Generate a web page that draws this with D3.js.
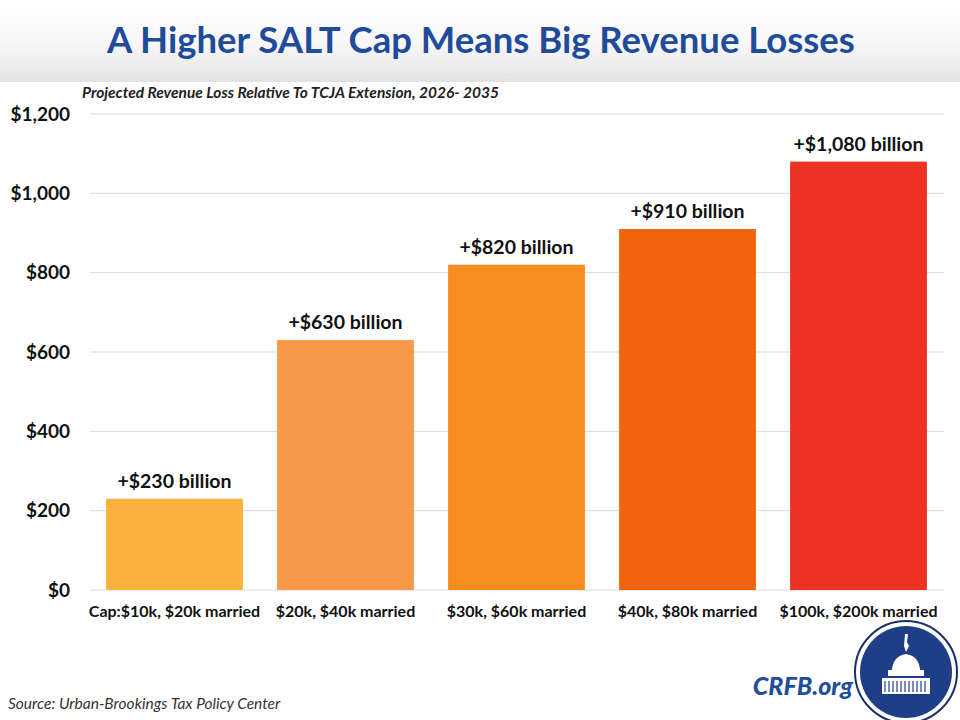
<!DOCTYPE html>
<html><head><meta charset="utf-8">
<script src="https://cdn.jsdelivr.net/npm/d3@7"></script>
<style>body{margin:0;background:#fff}svg{display:block}</style>
</head><body>
<svg id="c" width="960" height="720"></svg>
<script>
const categories = ["Cap:$10k, $20k married","$20k, $40k married","$30k, $60k married","$40k, $80k married","$100k, $200k married"];
const values = [230, 630, 820, 910, 1080];
const valueLabels = ["+$230 billion","+$630 billion","+$820 billion","+$910 billion","+$1,080 billion"];
const colors = ["#F9B13E","#F99849","#F78C1F","#F2630D","#EE3224"];
const yTicks = [0,200,400,600,800,1000,1200];

const svg = d3.select("#c");
const defs = svg.append("defs");
const g1 = defs.append("linearGradient").attr("id","hdr").attr("x1",0).attr("y1",0).attr("x2",0).attr("y2",1);
g1.append("stop").attr("offset","0%").attr("stop-color","#ffffff");
g1.append("stop").attr("offset","55%").attr("stop-color","#f7f7f7");
g1.append("stop").attr("offset","100%").attr("stop-color","#e6e6e6");
svg.append("rect").attr("x",0).attr("y",0).attr("width",960).attr("height",79).attr("fill","url(#hdr)");
svg.append("rect").attr("x",0).attr("y",79).attr("width",960).attr("height",3).attr("fill","#e2e2e2");

svg.append("text").attr("x",481).attr("y",53).attr("text-anchor","middle")
  .attr("font-family","Lato, 'Open Sans', sans-serif").attr("font-weight",700).attr("font-size",36.5)
  .attr("fill","#1F4B9B").text("A Higher SALT Cap Means Big Revenue Losses");
svg.append("text").attr("x",82).attr("y",98)
  .attr("font-family","Lato, sans-serif").attr("font-weight",700).attr("font-style","italic").attr("font-size",15.5)
  .attr("fill","#222").text("Projected Revenue Loss Relative To TCJA Extension,  2026- 2035");

const x = d3.scaleBand().domain(categories).range([89,944]).paddingInner(0.2).paddingOuter(0.1);
const y = d3.scaleLinear().domain([0,1200]).range([590,114]);

const grid = svg.append("g");
grid.selectAll("line").data(yTicks).join("line")
  .attr("x1",90).attr("x2",944).attr("y1",d=>y(d)).attr("y2",d=>y(d))
  .attr("stroke","#d9d9d9").attr("stroke-width",1);

const yAxis = svg.append("g").attr("transform","translate(90,0)")
  .call(d3.axisLeft(y).tickValues(yTicks).tickSize(0).tickPadding(20).tickFormat(d=>"$"+d3.format(",")(d)));
yAxis.select(".domain").remove();
yAxis.selectAll("text").attr("font-family","Lato, sans-serif").attr("font-weight",700).attr("font-size",19).attr("fill","#111");

svg.append("g").selectAll("rect").data(values).join("rect")
  .attr("x",(d,i)=>x(categories[i])).attr("width",x.bandwidth())
  .attr("y",d=>y(d)).attr("height",d=>y(0)-y(d)).attr("fill",(d,i)=>colors[i]);

svg.append("g").selectAll("text").data(values).join("text")
  .attr("x",(d,i)=>x(categories[i])+x.bandwidth()/2).attr("y",d=>y(d)-11)
  .attr("text-anchor","middle").attr("font-family","Lato, sans-serif").attr("font-weight",700)
  .attr("font-size",19.5).attr("fill","#111").text((d,i)=>valueLabels[i]);

const xAxis = svg.append("g").attr("transform","translate(0,590)")
  .call(d3.axisBottom(x).tickSize(0).tickPadding(16));
xAxis.select(".domain").remove();
xAxis.selectAll("text").attr("font-family","Lato, sans-serif").attr("font-weight",700).attr("font-size",16).attr("fill","#111");

svg.append("text").attr("x",8).attr("y",709)
  .attr("font-family","Lato, sans-serif").attr("font-style","italic").attr("font-size",15.5)
  .attr("fill","#333").text("Source: Urban-Brookings Tax Policy Center");
svg.append("text").attr("x",853).attr("y",695).attr("text-anchor","end")
  .attr("font-family","Lato, sans-serif").attr("font-weight",900).attr("font-style","italic").attr("font-size",25)
  .attr("fill","#1F4E9E").text("CRFB.org");

// logo
const lg = svg.append("g").attr("transform","translate(906,672)");
lg.append("circle").attr("r",51).attr("fill","#fff").attr("stroke","#1a2f66").attr("stroke-width",2);
lg.append("circle").attr("r",46).attr("fill","#1E3F87");
lg.append("path").attr("d","M-1,-38 L2,-38 L1,-30 L3,-26 L0,-20 L-2,-26 Z").attr("fill","#fff");
lg.append("path").attr("d","M-14,-2 Q-13,-16 0,-18 Q13,-16 14,-2 Z").attr("fill","#fff");
lg.append("rect").attr("x",-18).attr("y",-2).attr("width",36).attr("height",6).attr("fill","#fff");
lg.append("rect").attr("x",-24).attr("y",6).attr("width",48).attr("height",16).attr("fill","#fff");
for (let i=-21;i<=21;i+=4) lg.append("line").attr("x1",i).attr("x2",i).attr("y1",9).attr("y2",20).attr("stroke","#1E3F87").attr("stroke-width",1.2);
</script>
</body></html>
